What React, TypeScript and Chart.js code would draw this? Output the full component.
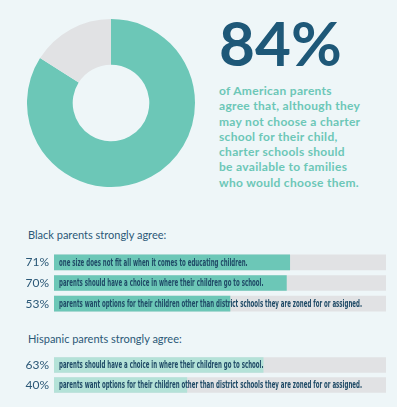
import React, { useEffect, useRef } from "react";
import { Chart, registerables } from "chart.js";

Chart.register(...registerables);

const donutLabels = ["Agree", "Other"];
const donutValues = [84, 16];

const blackPctLabels = ["71%", "70%", "53%"];
const blackValues = [71, 70, 53];
const blackTexts = [
  "one size does not fit all when it comes to educating children.",
  "parents should have a choice in where their children go to school.",
  "parents want options for their children other than district schools they are zoned for or assigned.",
];

const hispPctLabels = ["63%", "40%"];
const hispValues = [63, 40];
const hispTexts = [
  "parents should have a choice in where their children go to school.",
  "parents want options for their children other than district schools they are zoned for or assigned.",
];

const scaleMax = 100;

const BG = "#eef6f8";
const NAVY = "#1e5878";
const TEAL = "#6cc7b7";
const TEAL_LIGHT = "#b4e2d8";
const GRAY = "#e1e2e4";

const barTextPlugin = {
  id: "barText",
  afterDatasetsDraw(chart: any, _args: any, opts: any) {
    if (!opts || !opts.texts) return;
    const meta = chart.getDatasetMeta(0);
    const ctx = chart.ctx;
    ctx.save();
    ctx.font = opts.font;
    ctx.fillStyle = opts.color;
    ctx.textBaseline = "middle";
    ctx.textAlign = "left";
    meta.data.forEach((el: any, i: number) => {
      ctx.save();
      ctx.translate(chart.chartArea.left + 5, el.y + 0.5);
      ctx.scale(opts.scaleX, 1);
      ctx.fillText(opts.texts[i], 0, 0);
      ctx.restore();
    });
    ctx.restore();
  },
};

function BarBlock(props: {
  labels: string[];
  values: number[];
  texts: string[];
  color: string;
  top: number;
  height: number;
}) {
  const ref = useRef<HTMLCanvasElement>(null);
  useEffect(() => {
    if (!ref.current) return;
    const track = props.values.map(() => scaleMax);
    const chart = new Chart(ref.current, {
      type: "bar",
      data: {
        labels: props.labels,
        datasets: [
          {
            data: props.values,
            backgroundColor: props.color,
            barThickness: 15,
            grouped: false,
            order: 0,
          } as any,
          {
            data: track,
            backgroundColor: GRAY,
            barThickness: 15,
            grouped: false,
            order: 1,
          } as any,
        ],
      },
      options: {
        indexAxis: "y",
        responsive: false,
        animation: false,
        devicePixelRatio: 1,
        layout: { padding: { left: 0, right: 11, top: 0, bottom: 0 } },
        plugins: {
          legend: { display: false },
          tooltip: { enabled: false },
          barText: {
            texts: props.texts,
            color: "#1f4a66",
            font: "bold 10.5px 'Liberation Sans Narrow', 'DejaVu Sans Condensed', sans-serif",
            scaleX: 0.58,
          },
        } as any,
        scales: {
          x: { display: false, min: 0, max: scaleMax },
          y: {
            grid: { display: false, drawTicks: false },
            border: { display: false },
            ticks: {
              color: "#2b5877",
              padding: 5,
              font: { family: "Lato", size: 12 },
            },
            afterFit(scale: any) {
              scale.width = 54;
              scale.paddingTop = 0;
              scale.paddingBottom = 0;
            },
          },
        },
      },
      plugins: [barTextPlugin],
    });
    return () => chart.destroy();
  }, []);
  return (
    <canvas
      ref={ref}
      width={397}
      height={props.height}
      style={{ position: "absolute", left: 0, top: props.top, display: "block" }}
    />
  );
}

function Donut() {
  const ref = useRef<HTMLCanvasElement>(null);
  useEffect(() => {
    if (!ref.current) return;
    const chart = new Chart(ref.current, {
      type: "doughnut",
      data: {
        labels: donutLabels,
        datasets: [
          {
            data: donutValues,
            backgroundColor: [TEAL, GRAY],
            borderWidth: 0,
          },
        ],
      },
      options: {
        responsive: false,
        animation: false,
        devicePixelRatio: 1,
        cutout: "45.6%",
        plugins: { legend: { display: false }, tooltip: { enabled: false } },
      },
    });
    return () => chart.destroy();
  }, []);
  return (
    <canvas
      ref={ref}
      width={168}
      height={168}
      style={{ position: "absolute", left: 27, top: 19, display: "block" }}
    />
  );
}

export default function App() {
  useEffect(() => {
    document.body.style.margin = "0";
  }, []);
  const para = [
    "of American parents",
    "agree that, although they",
    "may not choose a charter",
    "school for their child,",
    "charter schools should",
    "be available to families",
    "who would choose them.",
  ];
  return (
    <div
      style={{
        position: "fixed",
        left: 0,
        top: 0,
        width: 397,
        height: 407,
        background: BG,
        overflow: "hidden",
        fontFamily: "Lato, sans-serif",
      }}
    >
      <Donut />
      <div
        style={{
          position: "absolute",
          left: 219,
          top: 11,
          fontSize: 62,
          lineHeight: "62px",
          fontWeight: 700,
          color: NAVY,
          whiteSpace: "nowrap",
        }}
      >
        84%
      </div>
      <div
        style={{
          position: "absolute",
          left: 219,
          top: 83,
          fontSize: 12,
          lineHeight: "15.3px",
          fontWeight: 700,
          letterSpacing: 0.3,
          color: TEAL,
          whiteSpace: "nowrap",
        }}
      >
        {para.map((l, i) => (
          <div key={i}>{l}</div>
        ))}
      </div>
      <div
        style={{
          position: "absolute",
          left: 28,
          top: 229,
          fontSize: 11,
          lineHeight: "11.5px",
          color: "#2b5877",
          whiteSpace: "nowrap",
        }}
      >
        Black parents strongly agree:
      </div>
      <BarBlock
        labels={blackPctLabels}
        values={blackValues}
        texts={blackTexts}
        color={TEAL}
        top={252}
        height={62}
      />
      <div
        style={{
          position: "absolute",
          left: 28,
          top: 332.5,
          fontSize: 11,
          lineHeight: "11.5px",
          color: "#2b5877",
          whiteSpace: "nowrap",
        }}
      >
        Hispanic parents strongly agree:
      </div>
      <BarBlock
        labels={hispPctLabels}
        values={hispValues}
        texts={hispTexts}
        color={TEAL_LIGHT}
        top={355}
        height={40}
      />
    </div>
  );
}
